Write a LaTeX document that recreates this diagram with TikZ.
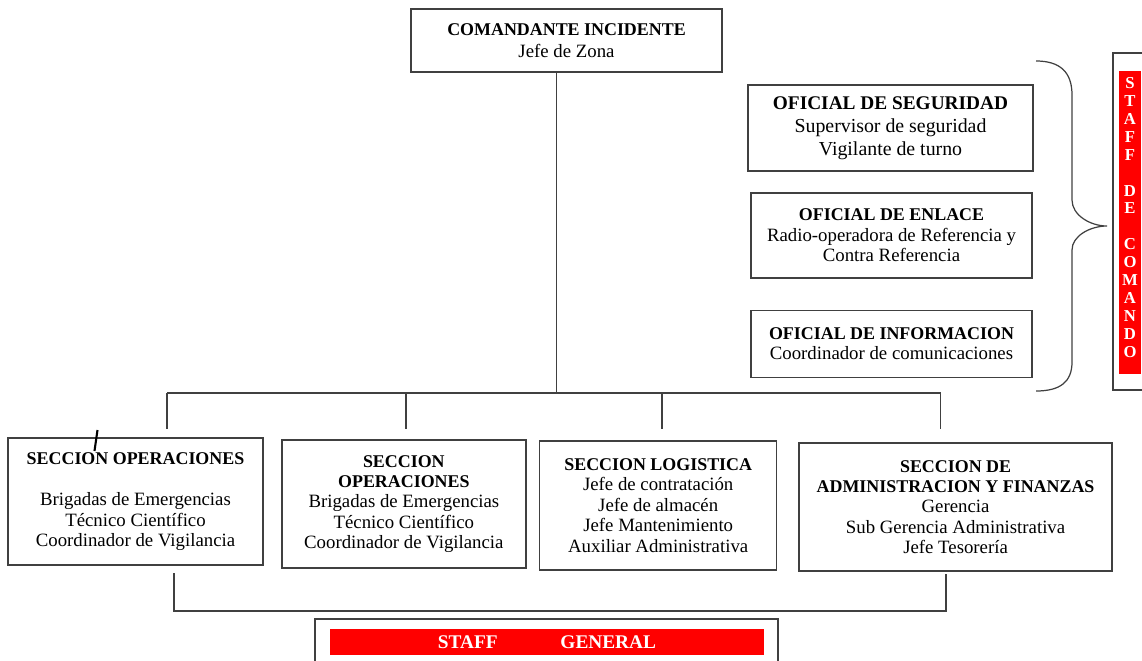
\documentclass[tikz,border=0pt]{standalone}
\usepackage{fontspec}
\setmainfont{Liberation Serif}
\usetikzlibrary{positioning,calc}
\definecolor{boxline}{gray}{0.25}
\definecolor{staffred}{RGB}{255,0,0}
\newcommand{\ttl}[1]{{\fontsize{10.2}{11.6}\selectfont\bfseries #1}}
\tikzset{
  orgbox/.style={draw=boxline, line width=0.8pt, rectangle, inner sep=0pt, align=center, font=\fontsize{10.7}{11.6}\selectfont},
  staffbar/.style={fill=staffred, draw=none, rectangle, inner sep=0pt, text=white, align=center},
  link/.style={draw=boxline, line width=0.8pt}
}

\begin{document}
\begin{tikzpicture}[x=0.02cm, y=-0.02cm]
  \clip (0,0) rectangle (1142,660);

  % Commander
  \node [orgbox, minimum width=6.22cm, minimum height=1.26cm] (cmd) at (566.5,40.5) {\ttl{COMANDANTE INCIDENTE}\\[0.9pt]Jefe de Zona};

  % Command staff
  \node [orgbox, minimum width=5.70cm, minimum height=1.72cm, font=\fontsize{11.3}{13}\selectfont] (seg) at (890.5,128) {{\fontsize{11}{13}\selectfont\bfseries OFICIAL DE SEGURIDAD}\\Supervisor de seguridad\\Vigilante de turno};
  \node [orgbox, minimum width=5.62cm, minimum height=1.70cm, below=0.41cm of seg, xshift=0.02cm] (enl) {\ttl{OFICIAL DE ENLACE}\\Radio-operadora de Referencia y\\Contra Referencia};
  \node [orgbox, minimum width=5.62cm, minimum height=1.34cm, below=0.62cm of enl] (inf) {\ttl{OFICIAL DE INFORMACION}\\Coordinador de comunicaciones};

  \node [orgbox, minimum width=0.68cm, minimum height=6.74cm] (stc) at (1130,221.5) {};
  \node [staffbar, minimum width=0.44cm, minimum height=6.06cm] (stcbar) at (1130,222.5) {};
  \node [text=white, align=center, inner sep=0pt, font=\fontsize{9.5}{10.2}\selectfont\bfseries] (stctxt) at (1130,217.5) {S\\T\\A\\F\\F\\[10.2pt]D\\E\\[10.2pt]C\\O\\M\\A\\N\\D\\O};

  % Brace
  \draw [link, line width=0.7pt] (1036,61) .. controls (1060,61) and (1072,72) .. (1072,95) -- (1072,200)
    .. controls (1072,215) and (1090,226) .. (1107,226)
    .. controls (1090,226) and (1072,236) .. (1072,250) -- (1072,362)
    .. controls (1072,382) and (1060,391) .. (1036,391);

  % Sections
  \node [orgbox, minimum width=5.10cm, minimum height=2.54cm] (ops1) at (135.5,501.5) {\ttl{SECCION OPERACIONES}\\[12pt]Brigadas de Emergencias\\Técnico Científico\\Coordinador de Vigilancia};
  \node [orgbox, minimum width=4.88cm, minimum height=2.56cm, right=0.35cm of ops1, yshift=-0.05cm] (ops2) {\ttl{SECCION}\\\ttl{OPERACIONES}\\Brigadas de Emergencias\\Técnico Científico\\Coordinador de Vigilancia};
  \node [orgbox, minimum width=4.74cm, minimum height=2.58cm, right=0.25cm of ops2, yshift=-0.03cm] (log) {\ttl{SECCION LOGISTICA}\\Jefe de contratación\\Jefe de almacén\\Jefe Mantenimiento\\Auxiliar Administrativa};
  \node [orgbox, minimum width=6.26cm, minimum height=2.56cm, right=0.42cm of log, yshift=-0.03cm] (adm) {\ttl{SECCION DE}\\\ttl{ADMINISTRACION Y FINANZAS}\\Gerencia\\Sub Gerencia Administrativa\\Jefe Tesorería};

  % General staff
  \node [orgbox, minimum width=9.26cm, minimum height=0.92cm] (stg) at (546.5,642) {};
  \node [staffbar, minimum width=8.68cm, minimum height=0.52cm, font=\fontsize{11}{13}\selectfont\bfseries] (stgbar) at (547,642) {STAFF\hspace{35.7pt}GENERAL};

  % Links
  \coordinate (top) at (556.5,72);
  \coordinate (j1) at (167,393);
  \coordinate (j4) at (940.5,393);
  \coordinate (d1) at (167,429);
  \coordinate (d2) at (406,429);
  \coordinate (d3) at (662,429);
  \coordinate (d4) at (940.5,429);
  \draw [link] (top) -- (top |- j1);
  \draw [link] (j1) -- (j4);
  \foreach \i in {1,...,4}
    \draw [link] (d\i |- j1) -- (d\i);

  \coordinate (b1) at (174,573);
  \coordinate (b4) at (946,574);
  \coordinate (bb) at (0,611);
  \draw [link] (b1) -- (b1 |- bb) -| (b4);

  \draw [line width=1.2pt] (97.5,430) -- (94.5,451);
\end{tikzpicture}
\end{document}
